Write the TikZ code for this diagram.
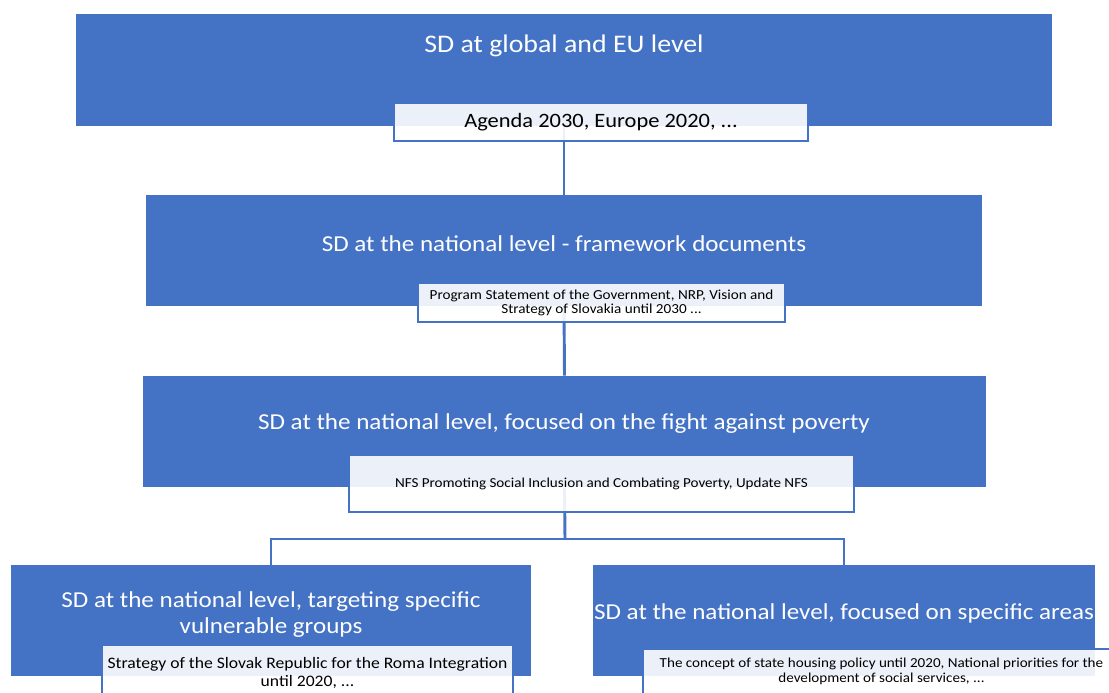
\documentclass[tikz,border=0pt]{standalone}
\usepackage{fontspec}
\setmainfont{Carlito}[FakeStretch=1.1]
\usetikzlibrary{fit,positioning}
\definecolor{sdblue}{HTML}{4472C4}
\tikzset{
    sdbox/.style={fill=sdblue, inner sep=0pt},
    sdtitle/.style={text=white, align=center, inner sep=0pt, font=\fontsize{17.1}{19.5}\selectfont},
    docbox/.style={draw=sdblue, line width=2pt, fill=white, fill opacity=0.9, text opacity=1, inner sep=0pt, align=center},
    link/.style={draw=sdblue, line width=2.2pt}
}

\begin{document}
\begin{tikzpicture}[x=0.75pt, y=-0.75pt]
    \useasboundingbox (0,0) rectangle (1109,692);
    \clip (0,0) rectangle (1109,692);

    % Levels
    \node[sdbox, fit={(76,14) (1052,126)}] (glob) {};
    \node[sdbox, fit={(146,195) (982,306)}] (nat) {};
    \node[sdbox, fit={(143,376) (986,487)}] (pov) {};
    \node[sdbox, fit={(11,565) (531,676)}] (grp) {};
    \node[sdbox, fit={(593,565) (1095,676)}] (area) {};

    % Connectors
    \coordinate (split) at (565,539);
    \draw[link] (glob.south) -- (nat.north);
    \draw[link] (nat.south) -- (pov.north);
    \draw[link] (pov.south) -- (split);
    \draw[link] (grp.north) |- (split) -| (area.north);

    % Documents
    \node[docbox, minimum width=310.5pt, minimum height=28.5pt, font=\fontsize{15.3}{18}\selectfont] (globdoc) at (601,122)
        {Agenda 2030, Europe 2020, ...};
    \node[docbox, minimum width=275.25pt, minimum height=29.25pt, font=\fontsize{10.35}{10.5}\selectfont] (natdoc) at (601.5,302.5)
        {Program Statement of the Government, NRP, Vision and\\Strategy of Slovakia until 2030 ...};
    \node[docbox, minimum width=378.75pt, minimum height=42.75pt, font=\fontsize{10.3}{12}\selectfont] (povdoc) at (601.5,483.5)
        {NFS Promoting Social Inclusion and Combating Poverty, Update NFS};
    \node[docbox, minimum width=308.25pt, minimum height=41.25pt, font=\fontsize{12}{13.5}\selectfont] (grpdoc) at (307.5,672.5)
        {Strategy of the Slovak Republic for the Roma Integration\\until 2020, ...};
    \node[docbox, minimum width=357.75pt, minimum height=33.75pt, font=\fontsize{10.3}{11.25}\selectfont] (areadoc) at (881.5,671.5)
        {The concept of state housing policy until 2020, National priorities for the\\development of social services, ...};

    % Titles
    \node[sdtitle, font=\fontsize{19}{19.5}\selectfont] (globT) at (564,46) {SD at global and EU level};
    \node[sdtitle] (natT) at (564,244) {SD at the national level - framework documents};
    \node[sdtitle] (povT) at (564,424) {SD at the national level, focused on the fight against poverty};
    \node[sdtitle] (grpT) at (271,615) {SD at the national level, targeting specific\\vulnerable groups};
    \node[sdtitle] (areaT) at (844,613) {SD at the national level, focused on specific areas};
\end{tikzpicture}
\end{document}
